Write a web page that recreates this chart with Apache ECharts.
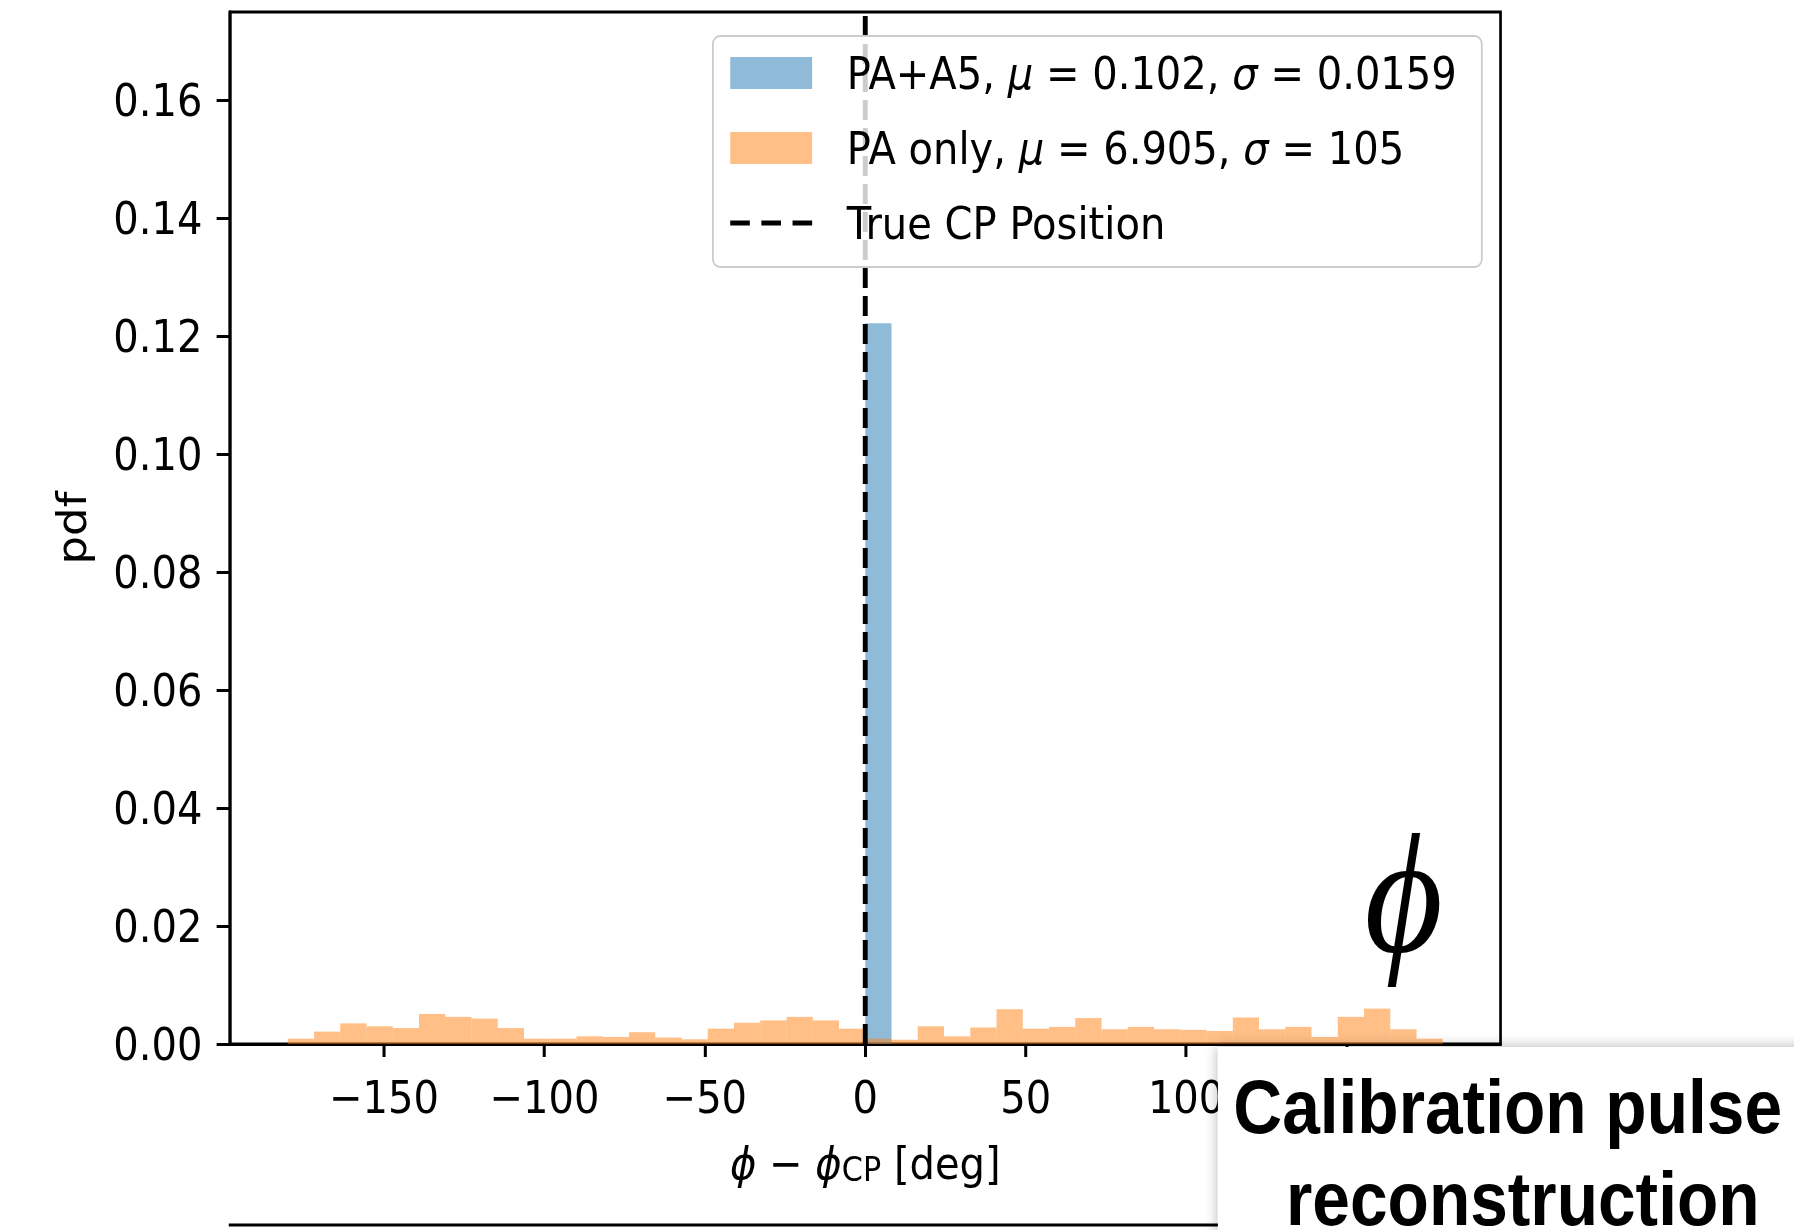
<!DOCTYPE html>
<html>
<head>
<meta charset="utf-8">
<script src="https://cdn.jsdelivr.net/npm/echarts@6.0.0/dist/echarts.min.js"></script>
<style>
  html, body { margin: 0; padding: 0; background: #fff; overflow: hidden; }
  /* the slide this comes from is squeezed horizontally, so draw wide and squeeze */
  #main { width: 2016px; height: 1230px; transform: scaleX(0.89); transform-origin: 0 0; }
</style>
</head>
<body>
<div id="main"></div>
<script>
// histogram bins (deg), density per bin
const binLo = -180;
const binHi = 180;
const binCount = 44;

const paA5 = [
  0, 0, 0, 0, 0, 0, 0, 0, 0, 0, 0, 0, 0, 0, 0, 0, 0, 0, 0, 0, 0, 0,
  0.1222, 0, 0, 0, 0, 0, 0, 0, 0, 0, 0, 0, 0, 0, 0, 0, 0, 0, 0, 0, 0, 0
];
const paOnly = [
  0.0009, 0.0021, 0.0035, 0.0030, 0.0027, 0.0051, 0.0046, 0.0043, 0.0027, 0.0009, 0.0009,
  0.0013, 0.0012, 0.0020, 0.0011, 0.0008, 0.0026, 0.0036, 0.0040, 0.0046, 0.0040, 0.0026,
  0.0009, 0.0007, 0.0030, 0.0013, 0.0028, 0.0059, 0.0026, 0.0029, 0.0044, 0.0025, 0.0029,
  0.0025, 0.0024, 0.0022, 0.0045, 0.0025, 0.0029, 0.0012, 0.0046, 0.0060, 0.0025, 0.0009
];
const cpPosition = 0;

const xTicks = [-150, -100, -50, 0, 50, 100, 150];
const yTicks = [0, 0.02, 0.04, 0.06, 0.08, 0.10, 0.12, 0.14, 0.16];

const legendText = {
  'PA+A5': 'PA+A5, {i|μ} = 0.102, {i|σ} = 0.0159',
  'PA only': 'PA only, {i|μ} = 6.905, {i|σ} = 105',
  'True CP Position': 'True CP Position'
};

const binWidth = (binHi - binLo) / binCount;
const toBins = vals => vals.map((v, i) => [binLo + i * binWidth, binLo + (i + 1) * binWidth, v]);

function renderBin(params, api) {
  const h = api.value(2);
  if (!h) return null;
  const a = api.coord([api.value(0), h]);
  const b = api.coord([api.value(1), 0]);
  return {
    type: 'rect',
    shape: { x: a[0], y: a[1], width: b[0] - a[0], height: b[1] - a[1] },
    style: api.style()
  };
}

const font = 'DejaVu Sans';
const myChart = echarts.init(document.getElementById('main'), null, { renderer: 'svg' });

const option = {
  backgroundColor: '#fff',
  animation: false,
  grid: {
    left: 258.4, right: 330, top: 12, bottom: 186,
    show: true, borderColor: '#000', borderWidth: 3
  },
  legend: {
    orient: 'vertical',
    left: 801, top: 36,
    align: 'left',
    itemWidth: 92, itemHeight: 32, itemGap: 27,
    padding: [13, 28, 20, 17],
    backgroundColor: 'rgba(255,255,255,0.8)',
    borderColor: '#cccccc', borderWidth: 2, borderRadius: 8,
    selectedMode: false,
    formatter: name => legendText[name],
    textStyle: {
      fontFamily: font, fontSize: 45, color: '#000', lineHeight: 48,
      padding: [0, 0, 0, 34],
      rich: { i: { fontFamily: font, fontStyle: 'italic', fontSize: 45, color: '#000' } }
    },
    data: [
      { name: 'PA+A5', icon: 'rect' },
      { name: 'PA only', icon: 'rect' },
      {
        name: 'True CP Position',
        itemStyle: { color: 'rgba(0,0,0,0)', borderWidth: 0 },
        lineStyle: { color: '#000', width: 5, type: [22, 13] }
      }
    ]
  },
  xAxis: {
    type: 'value', min: -198, max: 198,
    name: '{i|ϕ} − {i|ϕ}{s|CP} [deg]',
    nameLocation: 'middle', nameGap: 97,
    nameTextStyle: {
      fontFamily: font, fontSize: 45, color: '#000', lineHeight: 45,
      rich: {
        i: { fontFamily: font, fontStyle: 'italic', fontSize: 45, lineHeight: 45 },
        s: { fontFamily: font, fontSize: 34, lineHeight: 34, verticalAlign: 'bottom' }
      }
    },
    splitLine: { show: false },
    axisLine: { show: true, onZero: false, lineStyle: { color: '#000', width: 3 } },
    axisTick: { show: true, length: 13, customValues: xTicks, lineStyle: { color: '#000', width: 3.4 } },
    axisLabel: {
      customValues: xTicks, margin: 31,
      fontFamily: font, fontSize: 45, color: '#000',
      formatter: v => (v < 0 ? '\u2212' + Math.abs(v) : String(v))
    }
  },
  yAxis: {
    type: 'value', min: 0, max: 0.175,
    name: 'pdf', nameLocation: 'middle', nameRotate: 90, nameGap: 155,
    nameTextStyle: { fontFamily: font, fontSize: 45, color: '#000' },
    splitLine: { show: false },
    axisLine: { show: true, onZero: false, lineStyle: { color: '#000', width: 3.4 } },
    axisTick: { show: true, length: 15, customValues: yTicks, lineStyle: { color: '#000', width: 3 } },
    axisLabel: {
      customValues: yTicks, margin: 31,
      fontFamily: font, fontSize: 45, color: '#000',
      formatter: v => v.toFixed(2)
    }
  },
  series: [
    {
      name: 'PA+A5', type: 'custom', renderItem: renderBin,
      encode: { x: [0, 1], y: 2 },
      itemStyle: { color: 'rgba(31,119,180,0.5)' },
      data: toBins(paA5), z: 2
    },
    {
      name: 'PA only', type: 'custom', renderItem: renderBin,
      encode: { x: [0, 1], y: 2 },
      itemStyle: { color: 'rgba(255,127,14,0.5)' },
      data: toBins(paOnly), z: 2
    },
    {
      name: 'True CP Position', type: 'line', symbol: 'none',
      lineStyle: { color: '#000', width: 5.5, type: [20, 8] },
      data: [[cpPosition, 0], [cpPosition, 0.175]], z: 3
    }
  ],
  graphic: [
    {
      type: 'text', x: 1577, y: 894, z: 50,
      style: {
        text: '\u03D5', fill: '#000', align: 'center', verticalAlign: 'middle',
        fontSize: 170, fontStyle: 'italic', fontFamily: '"Liberation Serif", "DejaVu Serif", serif'
      }
    },
    {
      type: 'line', z: 50,
      shape: { x1: 257, y1: 1225, x2: 1370, y2: 1225 },
      style: { stroke: '#000', lineWidth: 3 }
    },
    {
      type: 'rect', z: 100,
      shape: { x: 1368.5, y: 1047, width: 700, height: 260 },
      style: { fill: '#fff', shadowBlur: 14, shadowColor: 'rgba(0,0,0,0.3)' }
    },
    {
      type: 'text', x: 1694, y: 1107, z: 101,
      style: {
        text: 'Calibration pulse', fill: '#000', align: 'center', verticalAlign: 'middle',
        fontSize: 76, fontWeight: 'bold', fontFamily: '"Liberation Sans", Arial, sans-serif'
      }
    },
    {
      type: 'text', x: 1711, y: 1199, z: 101,
      style: {
        text: 'reconstruction', fill: '#000', align: 'center', verticalAlign: 'middle',
        fontSize: 76, fontWeight: 'bold', fontFamily: '"Liberation Sans", Arial, sans-serif'
      }
    }
  ]
};

myChart.setOption(option);
</script>
</body>
</html>
